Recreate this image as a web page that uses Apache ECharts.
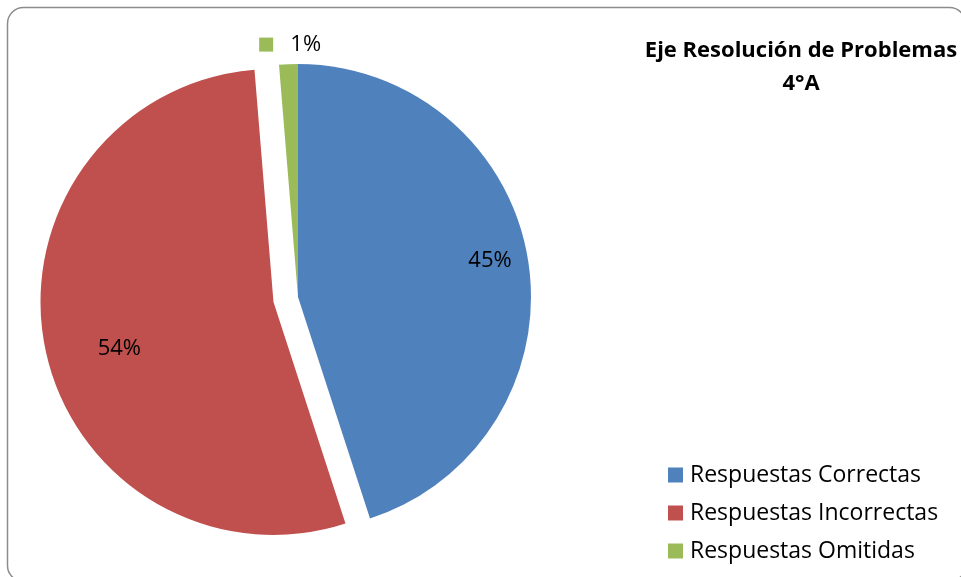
<!DOCTYPE html>
<html>
<head>
<meta charset="utf-8">
<script src="https://cdn.jsdelivr.net/npm/echarts@6/dist/echarts.min.js"></script>
<style>
html,body{margin:0;padding:0;background:#fff;}
#chart{width:961px;height:577px;}
</style>
</head>
<body>
<div id="chart"></div>
<script>
const categories = ['Respuestas Correctas', 'Respuestas Incorrectas', 'Respuestas Omitidas'];
const values = [45, 53.7, 1.3];
const colors = ['#4F81BD', '#C0504D', '#9BBB59'];
const exploded = [false, true, false];
const titleText = 'Eje Resolución de Problemas\n4°A';

const FONT = 'Open Sans';
// label shifts relative to the default inside position
const labelShift = [[74, -18], [-37, 23], [-3, -133]];

const chart = echarts.init(document.getElementById('chart'));
chart.setOption({
  animation: false,
  title: {
    text: titleText,
    left: 801,
    top: 34,
    padding: 0,
    textAlign: 'center',
    textStyle: { fontFamily: FONT, fontWeight: 'bold', fontSize: 22, lineHeight: 33, color: '#000' }
  },
  legend: {
    orient: 'vertical',
    left: 668,
    top: 463,
    padding: 0,
    itemWidth: 15,
    itemHeight: 15,
    itemGap: 14,
    icon: 'rect',
    textStyle: { fontFamily: FONT, fontSize: 23, lineHeight: 24, color: '#000', padding: [0, 0, 0, 2] },
    data: categories
  },
  graphic: [{
    type: 'rect',
    shape: { x: 7.5, y: 7.5, width: 958, height: 574, r: 16 },
    style: { fill: 'none', stroke: '#8c8c8c', lineWidth: 1.5 },
    silent: true
  }],
  series: [{
    type: 'pie',
    center: [298, 297],
    radius: [0, 233],
    startAngle: 90,
    clockwise: true,
    selectedMode: 'multiple',
    selectedOffset: 25,
    emphasis: { disabled: true },
    itemStyle: { borderWidth: 0 },
    labelLine: { show: false },
    label: {
      show: true,
      position: 'inside',
      fontFamily: FONT,
      fontSize: 22,
      color: '#000',
      formatter: p => p.dataIndex === 2 ? '{sq|}   ' + Math.round(p.percent) + '%' : Math.round(p.percent) + '%',
      rich: {
        sq: { backgroundColor: '#9BBB59', width: 14, height: 14 }
      }
    },
    labelLayout: p => ({ dx: labelShift[p.dataIndex][0], dy: labelShift[p.dataIndex][1] }),
    data: categories.map((c, i) => ({
      name: c,
      value: values[i],
      selected: exploded[i],
      itemStyle: { color: colors[i] }
    }))
  }]
});
</script>
</body>
</html>
